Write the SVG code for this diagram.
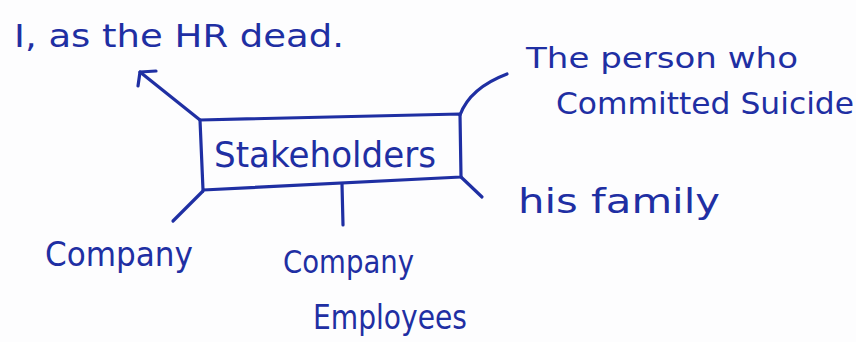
<svg xmlns="http://www.w3.org/2000/svg" width="856" height="342" viewBox="0 0 856 342">
  <style>
    .ink { fill: none; stroke: #1f2fa3; stroke-width: 3.2; stroke-linecap: round; stroke-linejoin: round; }
    .lbl { font-family: "DejaVu Sans", "Liberation Sans", sans-serif; fill: #1f2fa3; }
  </style>
  <rect width="856" height="342" fill="#fdfdfe"/>

  <g id="connectors">
    <!-- arrow up-left to the HR head -->
    <path class="ink" d="M200,120 L140,72"/>
    <path class="ink" d="M156,71 L140,72 L138,86"/>
    <!-- to the person who committed suicide -->
    <path class="ink" d="M460,115 Q470,88 507,74"/>
    <!-- to his family -->
    <path class="ink" d="M461,177 L482,197"/>
    <!-- to company -->
    <path class="ink" d="M203,191 L173,221"/>
    <!-- to company employees -->
    <path class="ink" d="M342,184 L343,225"/>
  </g>

  <g id="stakeholders">
    <path class="ink" d="M200,120 L460,114 L461,177 L203,190 Z"/>
    <text class="lbl" x="214" y="167" font-size="36" textLength="222" lengthAdjust="spacingAndGlyphs">Stakeholders</text>
  </g>

  <g id="hr-head">
    <text class="lbl" x="14" y="47" font-size="32" textLength="330" lengthAdjust="spacingAndGlyphs">I, as the HR dead.</text>
  </g>

  <g id="person">
    <text class="lbl" x="526" y="68" font-size="28" textLength="272" lengthAdjust="spacingAndGlyphs">The person who</text>
    <text class="lbl" x="556" y="114" font-size="31" textLength="298" lengthAdjust="spacingAndGlyphs">Committed Suicide</text>
  </g>

  <g id="family">
    <text class="lbl" x="518" y="213" font-size="34" textLength="202" lengthAdjust="spacingAndGlyphs">his family</text>
  </g>

  <g id="company">
    <text class="lbl" x="45" y="266" font-size="34" textLength="148" lengthAdjust="spacingAndGlyphs">Company</text>
  </g>

  <g id="employees">
    <text class="lbl" x="283" y="273" font-size="32" textLength="131" lengthAdjust="spacingAndGlyphs">Company</text>
    <text class="lbl" x="313" y="329" font-size="34" textLength="154" lengthAdjust="spacingAndGlyphs">Employees</text>
  </g>
</svg>
